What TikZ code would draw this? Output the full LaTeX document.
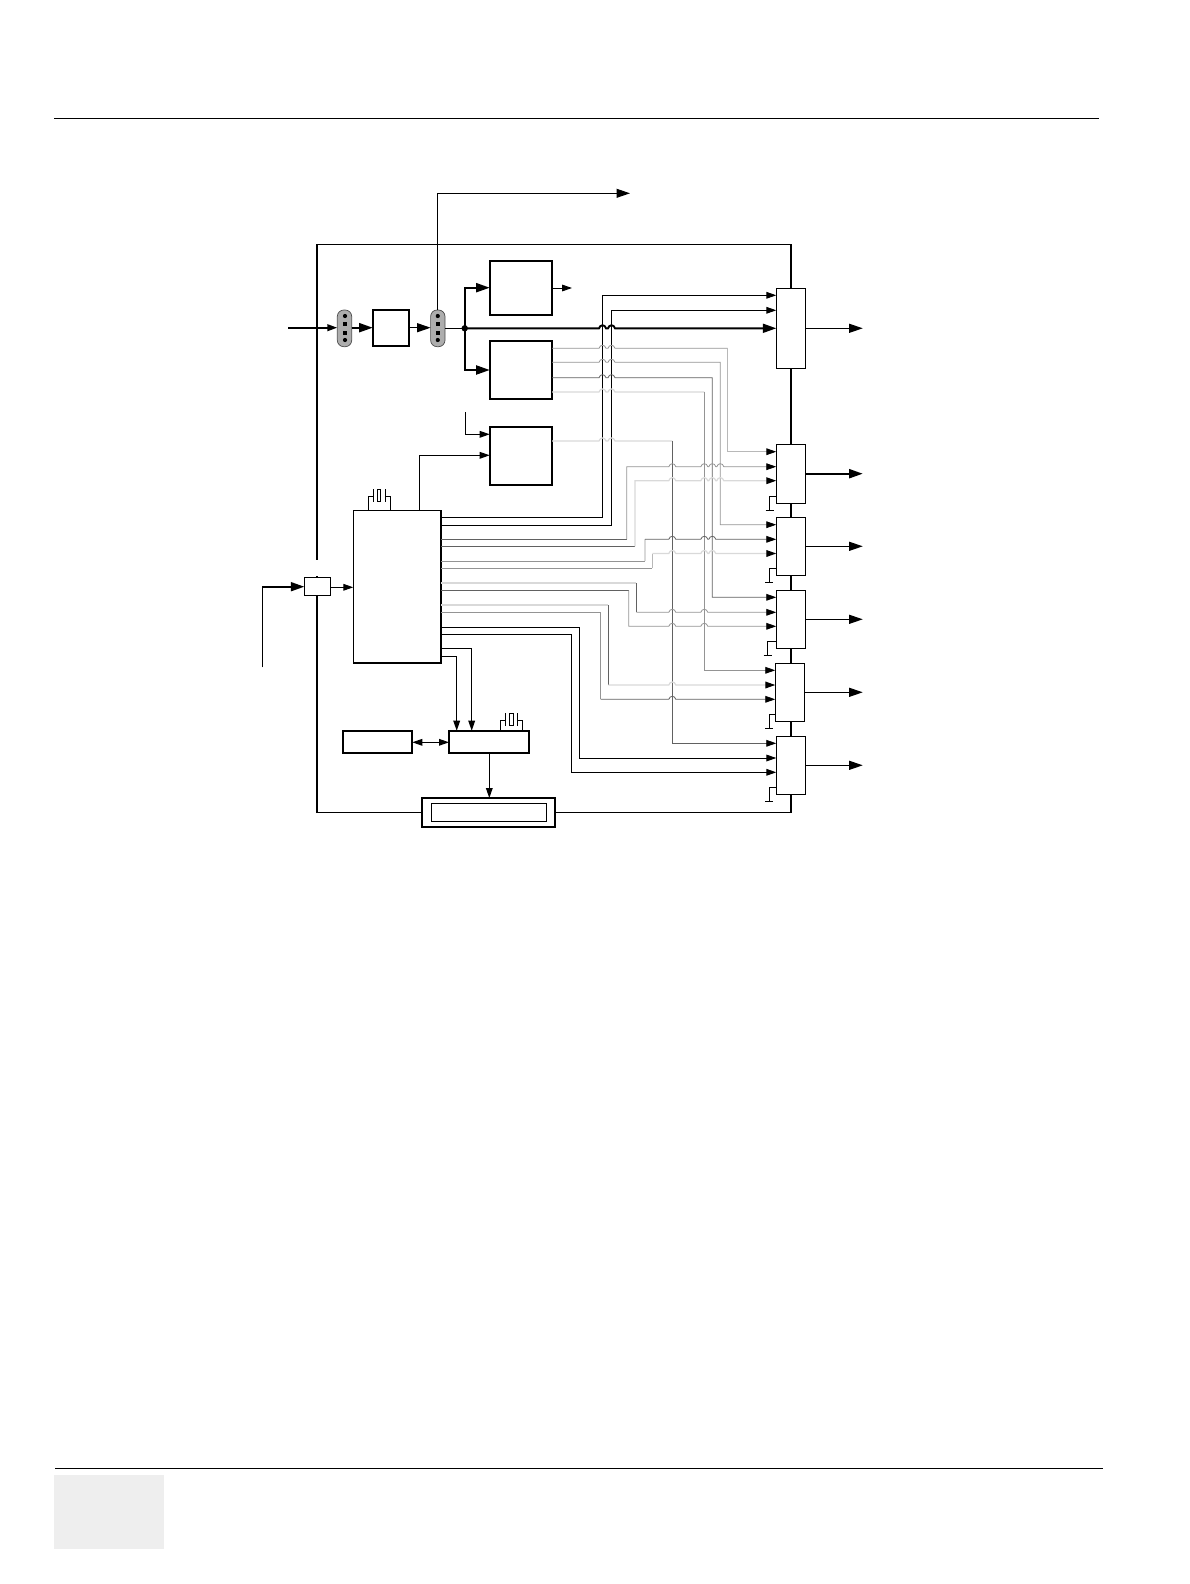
\documentclass[tikz,border=0pt]{standalone}
\usetikzlibrary{arrows.meta}
\definecolor{wdark}{gray}{0.38}
\definecolor{wmid}{gray}{0.58}
\definecolor{wlight}{gray}{0.85}
\definecolor{wsoft}{gray}{0.72}
\tikzset{
  boxthin/.style={draw=black,fill=white,line width=1.05pt,inner sep=0pt,outer sep=0pt},
  boxthick/.style={draw=black,fill=white,line width=1.8pt,inner sep=0pt,outer sep=0pt},
  pill/.style={draw=black!70,fill=black!32,line width=0.7pt,rounded corners=6.5pt,inner sep=0pt,outer sep=0pt},
  wblack/.style={draw=black,line width=1pt},
  wd/.style={draw=wdark,line width=0.8pt},
  wm/.style={draw=wmid,line width=0.8pt},
  ws/.style={draw=wsoft,line width=0.9pt},
  wl/.style={draw=wlight,line width=1.2pt},
  wthick/.style={draw=black,line width=1.9pt},
  tipS/.style={-{Triangle[length=10pt,width=6.7pt,black]}},
  tipL/.style={-{Triangle[length=13.5pt,width=9pt,black]}},
  tipSS/.style={{Triangle[length=10pt,width=6.7pt,black]}-{Triangle[length=10pt,width=6.7pt,black]}},
}
\newcommand{\bx}[6]{\node[#6,minimum width={(#4-#2)*1pt},minimum height={(#5-#3)*1pt}] (#1) at ({(#2+#4)/2},{(#3+#5)/2}) {};}
\newcommand{\hoppath}[2]{\foreach \h in {#2} { -- ({\h-3.5},#1) .. controls ({\h-2.5},{#1-4}) and ({\h+2.5},{#1-4}) .. ({\h+3.5},#1) }}
\newcommand{\xtal}[6]{% left x, right x, base y, top-lead y, plate L, plate R ; rect centred
  \draw[line width=0.8pt] (#1,#3) |- (#5,#4);
  \draw[line width=0.8pt] (#2,#3) |- (#6,#4);
  \draw[line width=0.8pt] (#5,{#4-7}) -- (#5,{#4+5.5}) (#6,{#4-7}) -- (#6,{#4+5.5});
  \draw[line width=0.8pt] ({(#5+#6)/2-1.7},{#4-7}) rectangle ({(#5+#6)/2+1.7},{#4+5.5});
}
\newcommand{\gnd}[3]{% box left edge x, y, stub x ; y2 = y+14
  \draw[line width=0.8pt] (#1,#2) -| (#3,{#2+14});
  \draw[line width=0.9pt] ({#3-4},{#2+14}) -- ({#3+4},{#2+14});
}
\begin{document}
\begin{tikzpicture}[x=1pt,y=-1pt]
\useasboundingbox (0,0) rectangle (1190,1584);
% page furniture
\fill[black!6.5] (54,1475) rectangle (164,1548.5);
\draw[line width=1pt] (54,118.5) -- (1099,118.5);
\draw[line width=1pt] (55,1468.5) -- (1103,1468.5);
% frame
\draw[line width=1.7pt] (317,559.5) -- (317,244.3);
\draw[line width=1.2pt] (316.2,244.3) -- (790.7,244.3);
\draw[line width=2.2pt] (790.7,244) -- (790.7,812.5);
\draw[line width=1.2pt] (791.7,812.3) -- (316.2,812.3);
\draw[line width=1.7pt] (317,813) -- (317,576);
% boxes
\bx{inbox}{304.3}{577.3}{330.7}{595.3}{boxthin}
\bx{amp}{372.7}{309.7}{409.3}{346.3}{boxthick}
\bx{boxa}{489.7}{260.7}{552}{315.3}{boxthick}
\bx{boxb}{489.7}{341}{552}{399}{boxthick}
\bx{boxc}{489.7}{426.7}{552}{485}{boxthick}
\bx{chip}{353.3}{510.3}{441.3}{663}{boxthin}
\draw[line width=1.9pt] (chip.north east) -- (chip.south east) -- (chip.south west);
\bx{mem}{343}{730.7}{412.3}{753}{boxthick}
\bx{ctrl}{449}{730.7}{529}{753}{boxthick}
\bx{disp}{421.7}{798}{555}{827}{boxthick}
\bx{dispin}{431.3}{803.3}{546.3}{821.3}{boxthin}
\bx{ma}{776.3}{288.3}{805.7}{368.3}{boxthin}
\bx{mb}{776.3}{444.3}{805.7}{503.3}{boxthin}
\bx{mc}{776.3}{517.3}{805.7}{575.3}{boxthin}
\bx{md}{776.3}{590.3}{805.7}{648.3}{boxthin}
\bx{me}{775.3}{663.3}{804.3}{721.3}{boxthin}
\bx{mf}{776.3}{736.3}{805.7}{794.3}{boxthin}
% pills
\bx{pa}{337.3}{310}{351.7}{346.7}{pill}
\bx{pb}{430.6}{310}{445}{346.7}{pill}
\foreach \p/\cx in {pa/345,pb/437.8}{
  \fill (\cx,316) circle (2.1);
  \fill (\cx-2,322.3) rectangle (\cx+2,326.3);
  \fill (\cx-2,330.7) rectangle (\cx+2,334.7);
  \fill (\cx,340) circle (2.1);
}
% input chain
\coordinate (inA) at (288,327.7);
\draw[wthick,tipS] (inA) -- (pa.west |- inA);
\draw[wthick,tipL] (pa.east |- inA) -- (amp.west |- inA);
\draw[line width=1pt,tipL] (amp.east |- inA) -- (pb.west |- inA);
\coordinate (upEnd) at (630,193.3);
\draw[line width=1pt,tipL] (pb.north) |- (upEnd);
\coordinate (jn) at (464.7,328.3);
\draw[line width=1pt] (pb.east |- jn) -- (jn);
\fill (jn) circle (3.2);
\draw[wthick,tipL] (jn) |- (boxa.west |- 0,287.7);
\draw[wthick,tipL] (jn) |- (boxb.west |- 0,370);
\draw[wthick,tipL] (jn) \hoppath{328.3}{602.5,611.5} -- (ma.west |- jn);
\coordinate (aout) at (572,288);
\draw[line width=1pt,tipS] (boxa.east |- aout) -- (aout);
% box c inputs
\coordinate (cin) at (465.3,412.3);
\draw[line width=1pt,tipS] (cin) |- (boxc.west |- 0,434.3);
\draw[line width=1pt,tipS] (chip.north -| 419.3,0) |- (boxc.west |- 0,455.3);
% in box
\coordinate (src) at (262.7,667.3);
\draw[line width=1pt] (src) -- (262.7,586.7);
\draw[line width=1.9pt,tipL] (262,586.7) -- (inbox.west |- 0,586.7);
\draw[line width=1pt,tipS] (inbox.east |- 0,587.3) -- (chip.west |- 0,587.3);
% crystals
\xtal{368.3}{390.7}{510.3}{496.3}{373.3}{385}
\xtal{500.7}{522.3}{730.7}{720.3}{505}{517.7}
% chip -> ctrl, mem, display
\draw[line width=1pt,tipS] (chip.east |- 0,648.7) -| (ctrl.north -| 471.7,0);
\draw[line width=1pt,tipS] (chip.east |- 0,656.3) -| (ctrl.north -| 456.7,0);
\draw[line width=1pt,tipSS] (mem.east |- 0,742.3) -- (ctrl.west |- 0,742.3);
\draw[line width=1pt,tipS] (ctrl.south -| 489.3,0) -- (disp.north -| 489.3,0);
% black wires to module A
\draw[wblack,tipS] (chip.east |- 0,517.7) -| (602.5,295.3) -- (ma.west |- 0,295.3);
\draw[wblack,tipS] (chip.east |- 0,525.3) -| (611.5,310.3) -- (ma.west |- 0,310.3);
% wires from box b
\draw[wm] (boxb.east |- 0,348.3) \hoppath{348.3}{602.5,611.5} -- (727.7,348.3);
\draw[ws,tipS] (727.7,348.3) |- (mb.west |- 0,451.7);
\draw[wm,tipS] (boxb.east |- 0,362.3) \hoppath{362.3}{602.5,611.5} -| (720.3,524.7) -- (mc.west |- 0,524.7);
\draw[wd,tipS] (boxb.east |- 0,377.7) \hoppath{377.7}{602.5,611.5} -| (712.3,597.3) -- (md.west |- 0,597.3);
\draw[wl] (boxb.east |- 0,392) \hoppath{392}{602.5,611.5} -- (704.3,392);
\draw[wm,tipS] (704.3,392) |- (me.west |- 0,670.3);
% wire from box c
\draw[wl] (boxc.east |- 0,441) \hoppath{441}{602.5,611.5} -- (672.3,441);
\draw[wd,tipS] (672.3,441) |- (mf.west |- 0,743.3);
% chip wires
\draw[wd] (chip.east |- 0,539.3) -- (626.7,539.3);
\draw[wm,tipS] (626.7,539.3) -- (626.7,466.7) \hoppath{466.7}{672.3,704.3,712.3,720.3} -- (mb.west |- 0,466.7);
\draw[wd] (chip.east |- 0,546.3) -- (635,546.3);
\draw[wl,tipS] (635,546.3) -- (635,480.7) \hoppath{480.7}{672.3,704.3,712.3,720.3} -- (mb.west |- 0,480.7);
\draw[wm] (chip.east |- 0,561.3) -- (645,561.3);
\draw[wl] (645,561.3) -- (645,539.3);
\draw[wd,tipS] (645,539.3) \hoppath{539.3}{672.3,704.3,712.3} -- (mc.west |- 0,539.3);
\draw[wm] (chip.east |- 0,568.3) -- (652.3,568.3);
\draw[ws] (652.3,568.3) -- (652.3,553.5);
\draw[wl,tipS] (652.3,553.5) \hoppath{553.5}{672.3,704.3,712.3} -- (mc.west |- 0,553.5);
\draw[wl] (chip.east |- 0,583) -- (636.3,583);
\draw[wd] (636.3,583) -- (636.3,612.3);
\draw[wm,tipS] (636.3,612.3) \hoppath{612.3}{672.3,704.3} -- (md.west |- 0,612.3);
\draw[wd] (chip.east |- 0,590.3) -- (628.7,590.3);
\draw[wm,tipS] (628.7,590.3) -- (628.7,626.3) \hoppath{626.3}{672.3,704.3} -- (md.west |- 0,626.3);
\draw[wl] (chip.east |- 0,605) -- (608.3,605);
\draw[wd] (608.3,605) -- (608.3,685);
\draw[wl,tipS] (608.3,685) \hoppath{685}{672.3} -- (me.west |- 0,685);
\draw[wm] (chip.east |- 0,612.3) -- (600.7,612.3) -- (600.7,699.3);
\draw[wd,tipS] (600.7,699.3) \hoppath{699.3}{672.3} -- (me.west |- 0,699.3);
\draw[wblack,tipS] (chip.east |- 0,627.3) -| (579.3,758) -- (mf.west |- 0,758);
\draw[wblack,tipS] (chip.east |- 0,634.7) -| (571.7,772.3) -- (mf.west |- 0,772.3);
% outputs
\coordinate (oa) at (862.7,328.3);
\coordinate (ob) at (862.7,473.7);
\coordinate (oc) at (862.7,546.3);
\coordinate (od) at (862.7,619.3);
\coordinate (oe) at (862.7,692.3);
\coordinate (of) at (862.7,765.3);
\draw[line width=1pt,tipL] (ma.east |- oa) -- (oa);
\draw[line width=1.9pt,tipL] (mb.east |- ob) -- (ob);
\draw[line width=1pt,tipL] (mc.east |- oc) -- (oc);
\draw[line width=1pt,tipL] (md.east |- od) -- (od);
\draw[line width=1pt,tipL] (me.east |- oe) -- (oe);
\draw[line width=1pt,tipL] (mf.east |- of) -- (of);
% grounds
\gnd{776.3}{496.7}{769.7}
\gnd{776.3}{568.3}{769.3}
\gnd{776.3}{641.3}{767.7}
\gnd{775.3}{714.3}{769}
\gnd{776.3}{787.3}{769}
\end{tikzpicture}
\end{document}
